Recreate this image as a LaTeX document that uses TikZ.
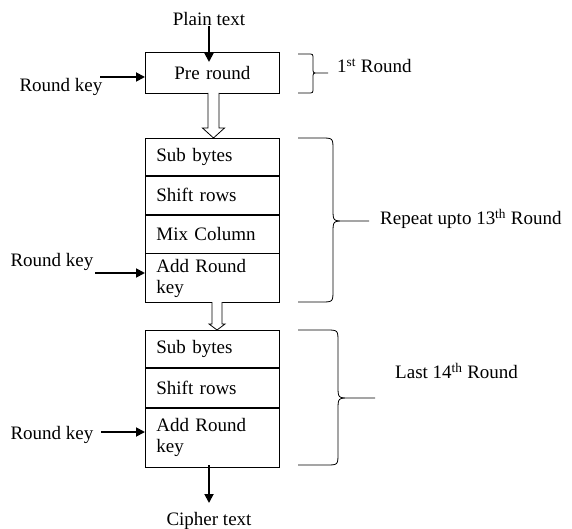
\documentclass[tikz,border=0pt]{standalone}
\usepackage{fontspec}
\setmainfont{Liberation Serif}
\usetikzlibrary{arrows.meta}
\newcommand\mybrace[7]{% x0, ytop, ybot, xv, ymid, xtip, r
  \draw[bracestyle] (#1,#2) -- (#4-#7,#2) .. controls (#4,#2) .. (#4,#2+#7) -- (#4,#5-#7)
    .. controls (#4,#5) .. (#4+#7,#5) -- (#6,#5)
    (#4+#7,#5) .. controls (#4,#5) .. (#4,#5+#7) -- (#4,#3-#7)
    .. controls (#4,#3) .. (#4-#7,#3) -- (#1,#3);}
\newcommand\hollowarrow[6]{% x, ytop, ybot, half shaft, half head, head length
  \draw[line width=0.8pt, fill=white] (#1-#4,#2) -- (#1-#4,#3-#6) -- (#1-#5,#3-#6) -- (#1,#3)
    -- (#1+#5,#3-#6) -- (#1+#4,#3-#6) -- (#1+#4,#2);}
\begin{document}
\begin{tikzpicture}[x=1pt,y=-1pt,
  lbl/.style={font=\fontsize{19}{21}\selectfont, inner sep=0pt},
  row/.style={draw, line width=0.8pt, minimum width=134pt, text width=112pt,
    inner xsep=11pt, inner ysep=0pt, align=left,
    font=\fontsize{19}{21}\selectfont, anchor=north west},
  arr/.style={line width=1.8pt, -{Triangle[length=9pt,width=9pt]}},
  bracestyle/.style={line width=0.8pt}]
\useasboundingbox (0,0) rectangle (572,529);
% Pre round
\node[row, minimum height=41pt, align=center] (pre) at (145,52) {Pre round};
% middle block
\node[row, minimum height=37pt] (sb1) at (145,138) {Sub bytes};
\node[row, minimum height=38pt] (sr1) at (sb1.south west) {Shift rows};
\node[row, minimum height=38pt] (mc1) at (sr1.south west) {Mix Column};
\node[row, minimum height=49pt] (ark1) at (mc1.south west) {Add Round\\key};
% last block
\node[row, minimum height=37pt] (sb2) at (145,330) {Sub bytes};
\node[row, minimum height=39pt] (sr2) at (sb2.south west) {Shift rows};
\node[row, minimum height=59pt] (ark2) at (sr2.south west) {Add Round\\key};
% labels
\node[lbl] (plain) at (209,19) {Plain text};
\node[lbl] (cipher) at (209,521) {Cipher text};
\node[lbl] (rk0) at (61,87) {Round key};
\node[lbl] (rk1) at (52,262) {Round key};
\node[lbl] (rk2) at (52,435) {Round key};
\coordinate (k0) at (100,77);
\coordinate (k1) at (95,273);
\coordinate (k2) at (101,432);
\coordinate (pin) at (209,26);
\coordinate (pend) at (209,62);
\coordinate (cstart) at (209,465);
\coordinate (cend) at (209,503);
% arrows
\draw[arr] (pin) -- (pend);
\draw[arr] (k0) -- (pre.west |- k0);
\draw[arr] (k1) -- (ark1.west |- k1);
\draw[arr] (k2) -- (ark2.west |- k2);
\draw[arr] (cstart) -- (cend);
% hollow arrows
\hollowarrow{213.5}{93}{138}{5.5}{11}{10}
\hollowarrow{217}{302}{330}{5}{8}{6}
% braces
\mybrace{298}{54}{93}{313}{73}{328}{5}
\mybrace{298}{138}{302}{333}{221}{369}{12}
\mybrace{298}{330}{465}{338}{398}{375}{12}
\node[lbl, anchor=west] (r1) at (337,66) {1\textsuperscript{st} Round};
\node[lbl, anchor=west] (r2) at (380,219) {Repeat upto 13\textsuperscript{th} Round};
\node[lbl, anchor=west] (r3) at (395,371) {Last 14\textsuperscript{th} Round};
\end{tikzpicture}
\end{document}
